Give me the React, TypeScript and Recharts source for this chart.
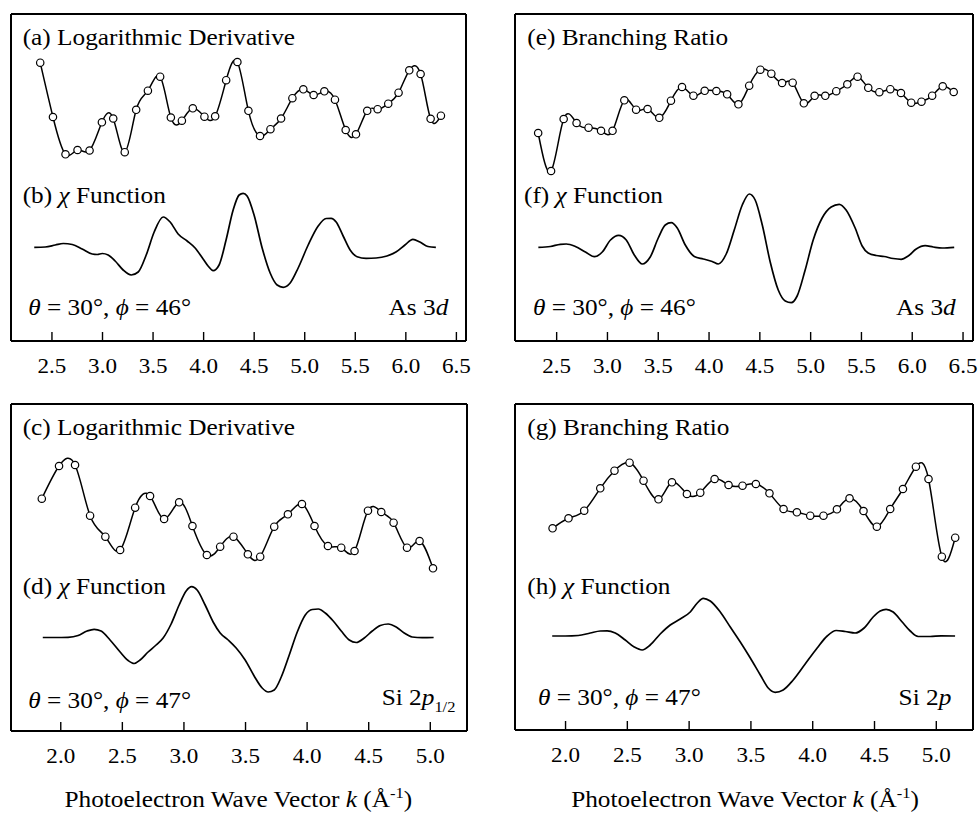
import React from 'react';
import { LineChart, Line, XAxis, YAxis } from 'recharts';

// ---------- Panel (a)/(b): As 3d, logarithmic derivative ----------
const aK = [2.384, 2.510, 2.634, 2.753, 2.872, 2.994, 3.106, 3.220, 3.333, 3.449, 3.570, 3.676, 3.785, 3.893, 4.008, 4.114, 4.223, 4.334, 4.443, 4.558, 4.661, 4.766, 4.878, 4.986, 5.088, 5.194, 5.299, 5.405, 5.507, 5.618, 5.721, 5.826, 5.928, 6.034, 6.146, 6.245, 6.347];
const aLogDeriv = [18.46, 13.03, 9.30, 9.73, 9.68, 12.50, 12.88, 9.51, 13.75, 15.66, 17.06, 12.98, 12.66, 13.90, 13.06, 13.10, 16.71, 18.53, 13.65, 11.13, 11.81, 12.88, 14.91, 15.80, 15.23, 15.60, 14.76, 11.73, 11.30, 13.65, 13.81, 14.36, 15.46, 17.70, 17.33, 12.85, 13.16];
const bK = [2.325, 2.434, 2.533, 2.612, 2.701, 2.799, 2.898, 2.948, 2.997, 3.056, 3.125, 3.204, 3.284, 3.353, 3.432, 3.511, 3.600, 3.669, 3.748, 3.837, 3.916, 3.995, 4.044, 4.094, 4.153, 4.222, 4.292, 4.351, 4.391, 4.430, 4.499, 4.579, 4.658, 4.727, 4.787, 4.856, 4.935, 5.034, 5.133, 5.212, 5.261, 5.311, 5.380, 5.449, 5.518, 5.607, 5.706, 5.813, 5.902, 5.991, 6.070, 6.139, 6.218, 6.297];
const bChi = [0, 0.03, 0.23, 0.38, 0.28, -0.17, -0.67, -0.72, -0.62, -0.77, -1.37, -2.27, -2.77, -2.47, -0.77, 1.53, 3.03, 2.53, 1.33, 0.63, -0.07, -1.17, -1.87, -2.34, -1.77, 0.73, 3.73, 5.23, 5.40, 5.13, 3.23, -0.07, -2.57, -3.77, -4.00, -3.57, -2.07, 0.23, 2.13, 2.88, 2.90, 2.53, 1.13, -0.27, -0.94, -1.10, -1.07, -0.87, -0.47, 0.23, 0.80, 0.53, 0.08, 0];

// ---------- Panel (e)/(f): As 3d, branching ratio ----------
const eK = [2.318, 2.445, 2.569, 2.696, 2.814, 2.937, 3.050, 3.166, 3.282, 3.395, 3.510, 3.625, 3.734, 3.846, 3.957, 4.072, 4.178, 4.289, 4.395, 4.505, 4.613, 4.719, 4.823, 4.933, 5.039, 5.144, 5.252, 5.361, 5.462, 5.567, 5.676, 5.784, 5.889, 5.990, 6.091, 6.196, 6.300, 6.408];
const eBranch = [11.43, 7.63, 12.83, 12.43, 11.96, 11.65, 11.65, 14.70, 13.76, 13.83, 12.95, 14.66, 16.03, 15.16, 15.65, 15.63, 15.30, 14.30, 16.16, 17.76, 17.36, 16.43, 16.46, 14.40, 15.15, 15.15, 15.61, 16.30, 17.06, 15.95, 15.51, 15.81, 15.43, 14.46, 14.56, 15.16, 16.10, 15.53];
const fK = [2.320, 2.438, 2.536, 2.595, 2.684, 2.783, 2.871, 2.949, 3.030, 3.110, 3.185, 3.264, 3.343, 3.421, 3.500, 3.569, 3.628, 3.687, 3.766, 3.855, 3.943, 4.031, 4.091, 4.169, 4.248, 4.327, 4.396, 4.454, 4.524, 4.602, 4.681, 4.750, 4.809, 4.867, 4.946, 5.025, 5.113, 5.202, 5.281, 5.349, 5.438, 5.507, 5.566, 5.645, 5.723, 5.812, 5.891, 5.960, 6.039, 6.127, 6.206, 6.295, 6.413];
const fChi = [0, 0.08, 0.30, 0.33, 0.08, -0.47, -0.94, -0.47, 0.73, 1.20, 0.73, -0.77, -1.67, -0.97, 0.93, 2.23, 2.46, 1.93, 0.23, -0.92, -1.17, -1.42, -1.67, -0.67, 1.73, 4.23, 5.33, 4.73, 2.23, -1.47, -4.27, -5.37, -5.54, -4.87, -2.27, 0.73, 2.93, 4.03, 4.30, 3.73, 1.93, 0.13, -0.57, -0.82, -0.92, -1.12, -1.20, -0.87, -0.17, 0.16, 0.03, -0.07, 0];

// ---------- Panel (c)/(d): Si 2p1/2, logarithmic derivative ----------
const cK = [1.846, 1.986, 2.116, 2.238, 2.362, 2.482, 2.604, 2.725, 2.839, 2.961, 3.069, 3.186, 3.294, 3.402, 3.519, 3.619, 3.733, 3.844, 3.958, 4.060, 4.169, 4.277, 4.385, 4.494, 4.602, 4.702, 4.811, 4.913, 5.022];
const cLogDeriv = [13.88, 17.15, 17.25, 12.18, 10.08, 8.75, 12.98, 14.15, 11.85, 13.52, 11.15, 8.25, 9.08, 10.08, 8.32, 8.08, 11.08, 12.32, 13.35, 11.15, 9.15, 8.98, 8.65, 12.68, 12.55, 11.48, 8.98, 9.65, 6.92];
const dK = [1.854, 1.954, 2.059, 2.141, 2.214, 2.271, 2.327, 2.400, 2.482, 2.547, 2.596, 2.644, 2.709, 2.774, 2.831, 2.896, 2.961, 3.018, 3.063, 3.107, 3.172, 3.237, 3.294, 3.359, 3.424, 3.497, 3.570, 3.635, 3.684, 3.733, 3.790, 3.855, 3.920, 3.985, 4.042, 4.091, 4.147, 4.212, 4.277, 4.342, 4.399, 4.464, 4.529, 4.594, 4.658, 4.723, 4.788, 4.853, 4.935, 5.027];
const dChi = [0, 0, 0.02, 0.20, 0.65, 0.82, 0.65, -0.25, -1.45, -2.30, -2.60, -2.25, -1.45, -0.75, -0.05, 1.35, 3.25, 4.65, 5.08, 4.75, 3.25, 1.55, 0.45, -0.25, -1.05, -2.25, -3.85, -5.05, -5.45, -5.25, -3.95, -1.75, 0.55, 2.25, 2.80, 2.85, 2.45, 1.65, 0.65, -0.25, -0.50, -0.05, 0.65, 1.20, 1.35, 1.05, 0.45, 0.05, -0.02, 0];

// ---------- Panel (g)/(h): Si 2p, branching ratio ----------
const gK = [1.895, 2.024, 2.151, 2.281, 2.396, 2.518, 2.631, 2.752, 2.861, 2.982, 3.090, 3.206, 3.319, 3.432, 3.540, 3.650, 3.764, 3.872, 3.980, 4.087, 4.196, 4.298, 4.411, 4.519, 4.627, 4.730, 4.835, 4.937, 5.045, 5.153];
const gBranch = [10.77, 11.77, 12.53, 14.77, 16.53, 17.33, 15.53, 13.67, 15.37, 14.20, 14.33, 15.70, 15.10, 15.03, 15.20, 14.27, 12.70, 12.37, 12.03, 12.03, 12.67, 13.77, 12.50, 10.93, 12.70, 14.70, 16.93, 15.70, 7.93, 9.83];
const hK = [1.892, 1.998, 2.103, 2.200, 2.281, 2.337, 2.402, 2.483, 2.556, 2.620, 2.685, 2.766, 2.847, 2.928, 3.009, 3.066, 3.114, 3.171, 3.252, 3.333, 3.414, 3.495, 3.576, 3.640, 3.697, 3.761, 3.842, 3.939, 4.036, 4.117, 4.190, 4.263, 4.343, 4.416, 4.489, 4.546, 4.594, 4.651, 4.724, 4.789, 4.853, 4.950, 5.039, 5.152];
const hChi = [0, 0, 0.05, 0.30, 0.50, 0.52, 0.30, -0.40, -1.10, -1.40, -0.90, 0.20, 1.10, 1.70, 2.40, 3.30, 3.77, 3.50, 2.40, 0.90, -0.60, -2.20, -3.90, -5.20, -5.63, -5.40, -4.40, -2.80, -1.20, 0, 0.55, 0.45, 0.30, 0.80, 1.90, 2.50, 2.67, 2.40, 1.40, 0.50, -0.05, -0.05, 0.02, 0];

// ---------- Tick labels ----------
const topTicks = [2.5, 3.0, 3.5, 4.0, 4.5, 5.0, 5.5, 6.0, 6.5];
const bottomTicks = [2.0, 2.5, 3.0, 3.5, 4.0, 4.5, 5.0];

const zip = (ks: number[], vs: number[]) => ks.map((k, i) => ({ k, v: vs[i] }));

const FONT = "Liberation Serif, Times New Roman, Times, serif";
const SX = 1.1;

const InTick = (props: any) => {
  const { x, y, payload } = props;
  return (
    <g transform={`translate(${x},${y})`}>
      <line x1={0} x2={0} y1={0} y2={-9} stroke="#000" strokeWidth={1.4} />
      <g transform={`scale(${SX},1)`}>
        <text x={0} y={32} textAnchor="middle" fontFamily={FONT} fontSize={21} fill="#000">
          {Number(payload.value).toFixed(1)}
        </text>
      </g>
    </g>
  );
};

type PanelProps = {
  left: number; top: number; width: number; height: number;
  margin: { top: number; right: number; bottom: number; left: number };
  xDomain: [number, number]; yDomain: [number, number]; ticks: number[];
  points: { k: number; v: number }[]; chi: { k: number; v: number }[];
};

const axisLine = { stroke: '#000', strokeWidth: 2 };

const Panel = (p: PanelProps) => (
  <div style={{ position: 'absolute', left: p.left, top: p.top }}>
    <LineChart width={p.width} height={p.height} margin={p.margin}>
      <XAxis xAxisId="b" type="number" dataKey="k" domain={p.xDomain} allowDataOverflow ticks={p.ticks}
        interval={0} height={1} tickSize={0} tickMargin={0} tickLine={false} axisLine={axisLine} tick={<InTick />} />
      <XAxis xAxisId="t" orientation="top" type="number" dataKey="k" domain={p.xDomain} allowDataOverflow
        height={1} tick={false} tickLine={false} axisLine={axisLine} />
      <YAxis yAxisId="l" type="number" domain={p.yDomain} allowDataOverflow width={1} tick={false} tickLine={false} axisLine={axisLine} />
      <YAxis yAxisId="r" orientation="right" type="number" domain={p.yDomain} allowDataOverflow width={1} tick={false} tickLine={false} axisLine={axisLine} />
      <Line xAxisId="b" yAxisId="l" data={p.chi} dataKey="v" type="monotone" dot={false} stroke="#000" strokeWidth={1.7} isAnimationActive={false} />
      <Line xAxisId="b" yAxisId="l" data={p.points} dataKey="v" type="natural" stroke="#000" strokeWidth={1.5}
        dot={{ r: 3.7, fill: '#fff', stroke: '#000', strokeWidth: 1.2 }} isAnimationActive={false} />
    </LineChart>
  </div>
);

const Txt = ({ x, y, anchor = 'start', size = 23, children }: any) => (
  <g transform={`translate(${x},${y}) scale(${SX},1)`}>
    <text x={0} y={0} textAnchor={anchor} fontFamily={FONT} fontSize={size} fill="#000">{children}</text>
  </g>
);

const I = ({ children }: any) => <tspan fontStyle="italic">{children}</tspan>;

export default function App() {
  return (
    <div style={{ position: 'absolute', left: 0, top: 0, width: 978, height: 814, background: '#fff', overflow: 'hidden' }}>
      <Panel left={0} top={0} width={489} height={390} margin={{ top: 13, right: 22, bottom: 48, left: 10 }}
        xDomain={[2.095, 6.595]} yDomain={[-9.37, 23.33]} ticks={topTicks}
        points={zip(aK, aLogDeriv)} chi={zip(bK, bChi)} />
      <Panel left={489} top={0} width={489} height={390} margin={{ top: 13, right: 4, bottom: 48, left: 25 }}
        xDomain={[2.09, 6.598]} yDomain={[-9.37, 23.33]} ticks={topTicks}
        points={zip(eK, eBranch)} chi={zip(fK, fChi)} />
      <Panel left={0} top={390} width={489} height={424} margin={{ top: 13, right: 21, bottom: 82, left: 10 }}
        xDomain={[1.596, 5.298]} yDomain={[-9.35, 23.35]} ticks={bottomTicks}
        points={zip(cK, cLogDeriv)} chi={zip(dK, dChi)} />
      <Panel left={489} top={390} width={489} height={424} margin={{ top: 13, right: 4, bottom: 83, left: 25 }}
        xDomain={[1.591, 5.297]} yDomain={[-9.4, 23.2]} ticks={bottomTicks}
        points={zip(gK, gBranch)} chi={zip(hK, hChi)} />

      <svg width={978} height={814} style={{ position: 'absolute', left: 0, top: 0, pointerEvents: 'none' }}>
        <Txt x={22.7} y={45}>(a) Logarithmic Derivative</Txt>
        <Txt x={22.7} y={202.5}>(b) <I>χ</I> Function</Txt>
        <Txt x={28.3} y={315}><I>θ</I> = 30°, <I>ϕ</I> = 46°</Txt>
        <Txt x={448.3} y={315} anchor="end">As 3<I>d</I></Txt>

        <Txt x={527.3} y={45}>(e) Branching Ratio</Txt>
        <Txt x={524} y={202.5}>(f) <I>χ</I> Function</Txt>
        <Txt x={533} y={315}><I>θ</I> = 30°, <I>ϕ</I> = 46°</Txt>
        <Txt x={955.7} y={315} anchor="end">As 3<I>d</I></Txt>

        <Txt x={22.7} y={435}>(c) Logarithmic Derivative</Txt>
        <Txt x={22.7} y={594}>(d) <I>χ</I> Function</Txt>
        <Txt x={28.3} y={708}><I>θ</I> = 30°, <I>ϕ</I> = 47°</Txt>
        <Txt x={381.7} y={705}>Si 2<I>p</I><tspan fontSize={15} dy={7}>1/2</tspan></Txt>

        <Txt x={527.3} y={435}>(g) Branching Ratio</Txt>
        <Txt x={527.3} y={594}>(h) <I>χ</I> Function</Txt>
        <Txt x={538} y={705}><I>θ</I> = 30°, <I>ϕ</I> = 47°</Txt>
        <Txt x={951.3} y={705} anchor="end">Si 2<I>p</I></Txt>

        <Txt x={238.3} y={807} anchor="middle">Photoelectron Wave Vector <I>k</I> (Å<tspan fontSize={15} dy={-9}>-1</tspan><tspan dy={9}>)</tspan></Txt>
        <Txt x={745} y={807} anchor="middle">Photoelectron Wave Vector <I>k</I> (Å<tspan fontSize={15} dy={-9}>-1</tspan><tspan dy={9}>)</tspan></Txt>
      </svg>
    </div>
  );
}
